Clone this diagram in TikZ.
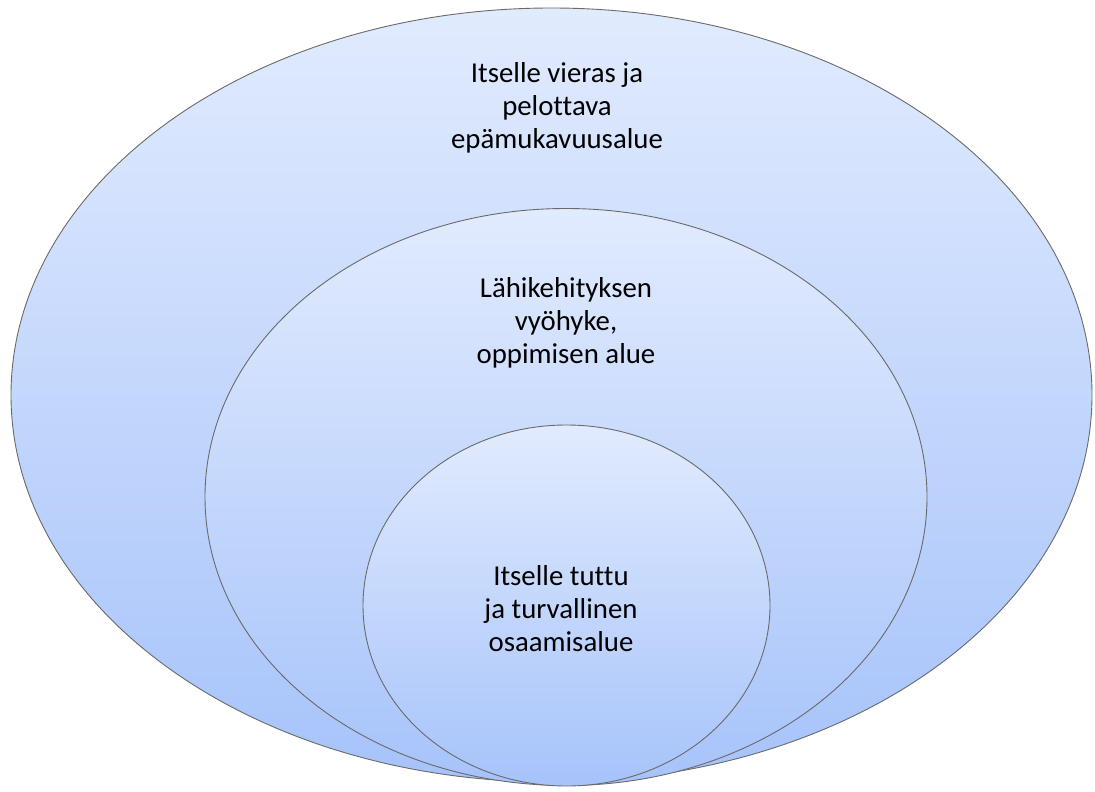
\documentclass[tikz,border=0pt]{standalone}
\usepackage{fontspec}
\setmainfont[Ligatures=CommonOff]{Carlito}
\usetikzlibrary{shapes.geometric}
\definecolor{topc}{HTML}{E1EBFE}
\definecolor{botc}{HTML}{A6C3FA}
\definecolor{edge}{HTML}{6A6A6A}
\tikzset{
  zone/.style={ellipse, draw=edge, line width=0.9pt, inner sep=0pt,
    top color=topc, bottom color=botc},
  lbl/.style={align=center, font=\fontsize{28.8}{33}\selectfont, text=black}
}
\begin{document}
\begin{tikzpicture}[x=1pt,y=-1pt]
\useasboundingbox (0,0) rectangle (1095,792);
\node[zone, minimum width=1081, minimum height=774] (outer) at (551.5,395) {};
\node[zone, minimum width=722, minimum height=577] (middle) at (566,497) {};
\node[zone, minimum width=407, minimum height=361] (inner) at (566.5,605.5) {};
\node[lbl] (touter) at (557,108) {Itselle vieras ja\\pelottava\\epämukavuusalue};
\node[lbl] (tmiddle) at (566,323) {Lähikehityksen\\vyöhyke,\\oppimisen alue};
\node[lbl] (tinner) at (561,609) {Itselle tuttu\\ja turvallinen\\osaamisalue};
\end{tikzpicture}
\end{document}
